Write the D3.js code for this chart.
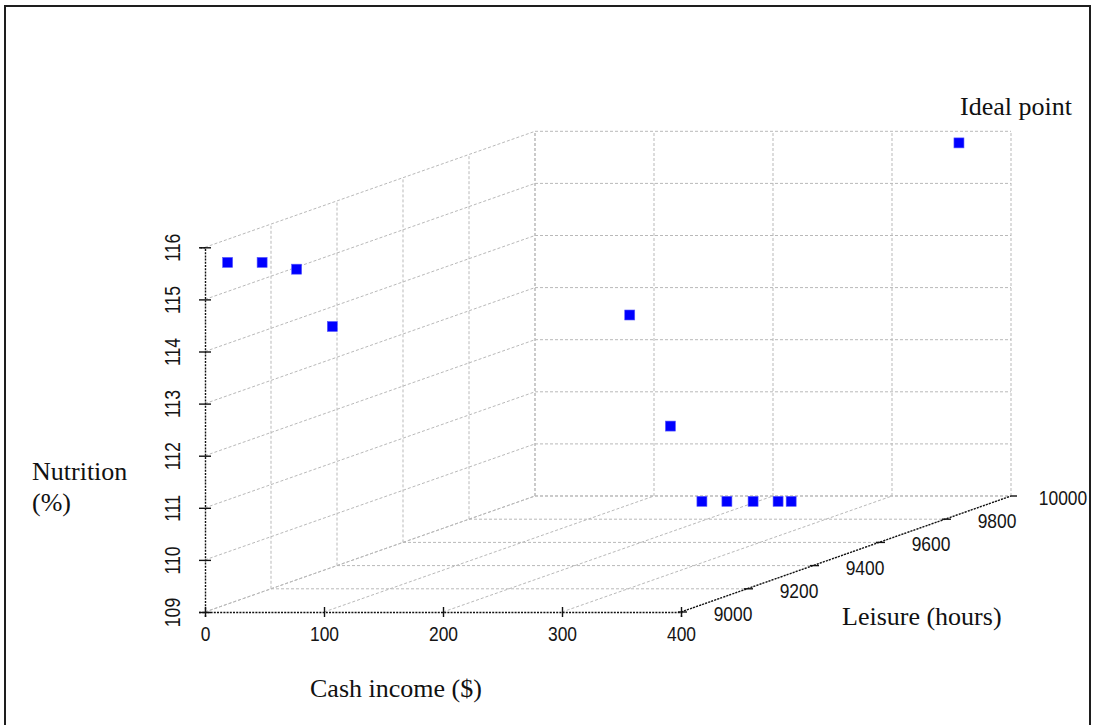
<!DOCTYPE html>
<html>
<head>
<meta charset="utf-8">
<script src="https://cdn.jsdelivr.net/npm/d3@7"></script>
<style>
  html, body { margin: 0; padding: 0; background: #fff; }
  svg { display: block; }
</style>
</head>
<body>
<svg id="chart" width="1095" height="725"></svg>
<script>
// Pareto solutions: cash income ($), leisure (hours), nutrition (%)
const cashIncome = [19, 48, 77, 107, 246, 197, 168, 189, 211, 232, 243];
const leisureHours = [9000, 9000, 9000, 9000, 9400, 9700, 9900, 9900, 9900, 9900, 9900];
const nutritionPct = [115.71, 115.71, 115.58, 114.48, 113.81, 111.01, 109.12, 109.12, 109.12, 109.12, 109.12];

// Ideal point (cash income, leisure, nutrition)
const idealPoint = [384, 9900, 116.0];

// Axis ticks
const cashTicks = [0, 100, 200, 300, 400];
const leisureTicks = [9000, 9200, 9400, 9600, 9800, 10000];
const nutritionTicks = [109, 110, 111, 112, 113, 114, 115, 116];

const svg = d3.select("#chart");

// Oblique 3D projection: cash runs to the right, nutrition runs up,
// leisure recedes diagonally into the page.
const x = d3.scaleLinear().domain([0, 400]).range([205, 681]);
const z = d3.scaleLinear().domain([109, 116]).range([612, 247.3]);
const depth = d3.scaleLinear().domain([9000, 10000]).range([0, 1]);
const DX = 330, DY = -116;

function proj(c, l, n) {
  const d = depth(l);
  return [x(c) + d * DX, z(n) + d * DY];
}

const cMin = 0, cMax = 400, lMin = 9000, lMax = 10000, nMin = 109, nMax = 116;
const line = d3.line();

// Outer frame
svg.append("rect")
  .attr("x", 5).attr("y", 6)
  .attr("width", 1085).attr("height", 740)
  .attr("fill", "none")
  .attr("stroke", "#1e1e1e")
  .attr("stroke-width", 2);

// ---- grid on the three back planes ----
const gridSegs = [];
// back wall (leisure = max)
cashTicks.forEach(c => gridSegs.push([proj(c, lMax, nMin), proj(c, lMax, nMax)]));
nutritionTicks.forEach(n => gridSegs.push([proj(cMin, lMax, n), proj(cMax, lMax, n)]));
// left wall (cash = 0)
nutritionTicks.forEach(n => gridSegs.push([proj(cMin, lMin, n), proj(cMin, lMax, n)]));
leisureTicks.slice(1).forEach(l => gridSegs.push([proj(cMin, l, nMin), proj(cMin, l, nMax)]));
// floor (nutrition = min)
cashTicks.forEach(c => gridSegs.push([proj(c, lMin, nMin), proj(c, lMax, nMin)]));
leisureTicks.slice(1).forEach(l => gridSegs.push([proj(cMin, l, nMin), proj(cMax, l, nMin)]));

svg.append("g").attr("class", "grid")
  .selectAll("path")
  .data(gridSegs)
  .join("path")
  .attr("d", d => line(d))
  .attr("fill", "none")
  .attr("stroke", "#b9b9b9")
  .attr("stroke-width", 1)
  .attr("stroke-dasharray", "3,2");

const axisStroke = g => {
  g.selectAll(".domain, .tick line")
    .attr("stroke", "#111")
    .attr("stroke-width", 1.4);
  g.select(".domain").attr("stroke-dasharray", "2,1.2");
};

// ---- nutrition axis (vertical, left) ----
const zAxisG = svg.append("g")
  .attr("transform", `translate(${x(0)},0)`)
  .call(d3.axisLeft(z).tickValues(nutritionTicks).tickSizeOuter(0).tickSize(6).tickFormat(d3.format("d")));
zAxisG.call(axisStroke);
zAxisG.selectAll(".tick line").attr("x1", -6).attr("x2", 6);
zAxisG.selectAll(".tick text")
  .attr("x", null).attr("dy", null)
  .attr("text-anchor", "middle")
  .attr("fill", "#151515")
  .style("font-family", "'Liberation Sans', Arial, sans-serif")
  .style("font-size", "22px")
  .attr("transform", "translate(-25,0) rotate(-90) scale(0.8,1)");

// ---- cash income axis (bottom, front) ----
const xAxisG = svg.append("g")
  .attr("transform", `translate(0,${z(109)})`)
  .call(d3.axisBottom(x).tickValues(cashTicks).tickSizeOuter(0).tickSize(5).tickFormat(d3.format("d")));
xAxisG.call(axisStroke);
xAxisG.selectAll(".tick line").attr("y1", -5).attr("y2", 5);
xAxisG.selectAll(".tick text")
  .attr("y", null).attr("dy", null)
  .attr("text-anchor", "middle")
  .attr("fill", "#151515")
  .style("font-family", "'Liberation Sans', Arial, sans-serif")
  .style("font-size", "20px")
  .attr("transform", "translate(0,29) scale(0.87,1)");

// ---- leisure axis (receding, right) ----
const yAxisG = svg.append("g").attr("class", "leisure-axis");
yAxisG.append("path")
  .attr("d", line([proj(cMax, lMin, nMin), proj(cMax, lMax, nMin)]))
  .attr("fill", "none")
  .attr("stroke", "#111")
  .attr("stroke-width", 1.4)
  .attr("stroke-dasharray", "2,1.2");
const yTick = yAxisG.selectAll("g.tick")
  .data(leisureTicks)
  .join("g")
  .attr("class", "tick")
  .attr("transform", d => { const p = proj(cMax, d, nMin); return `translate(${p[0]},${p[1]})`; });
yTick.append("line")
  .attr("x1", d => d === lMax ? 0 : -3).attr("x2", 6)
  .attr("stroke", "#111").attr("stroke-width", 1.4);
yTick.append("text")
  .attr("text-anchor", "middle")
  .attr("fill", "#151515")
  .style("font-family", "'Liberation Sans', Arial, sans-serif")
  .style("font-size", "20px")
  .attr("transform", "translate(52,9) scale(0.87,1)")
  .text(d => d);

// ---- points ----
const pts = cashIncome.map((c, i) => proj(c, leisureHours[i], nutritionPct[i]));
pts.push(proj(idealPoint[0], idealPoint[1], idealPoint[2]));
const S = 10;
svg.append("g").attr("class", "points")
  .selectAll("rect")
  .data(pts)
  .join("rect")
  .attr("x", d => d[0] - S / 2)
  .attr("y", d => d[1] - S / 2)
  .attr("width", S).attr("height", S)
  .attr("fill", "#0000ff")
  .attr("stroke", "#5a5aff")
  .attr("stroke-width", 0.6);

// ---- titles ----
const serif = "'Liberation Serif', 'Times New Roman', serif";
const title = (tx, ty, t) => svg.append("text")
  .attr("x", tx).attr("y", ty)
  .attr("fill", "#111")
  .style("font-family", serif)
  .style("font-size", "26px")
  .text(t);

title(32, 480, "Nutrition");
title(32, 511, "(%)");
title(310, 697, "Cash income ($)");
title(842, 625, "Leisure (hours)");
title(960, 115, "Ideal point");
</script>
</body>
</html>
